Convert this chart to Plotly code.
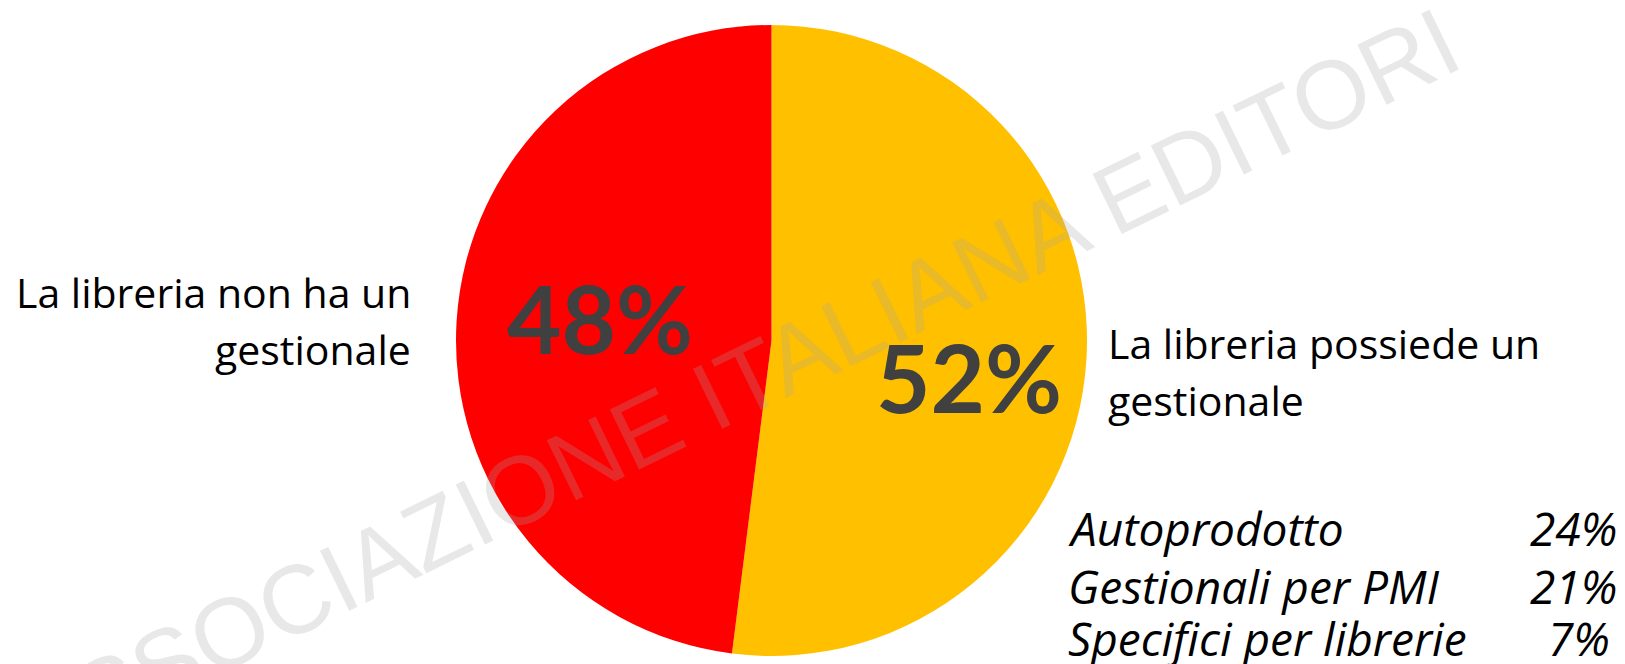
import plotly.graph_objects as go

W, H = 1625, 664

# Data
slice_labels = ["La libreria possiede un gestionale", "La libreria non ha un gestionale"]
slice_values = [52, 48]
slice_colors = ["#FFC000", "#FF0000"]
pct_text = ["52%", "48%"]

sub_labels = ["Autoprodotto", "Gestionali per PMI", "Specifici per librerie"]
sub_values = ["24%", "21%", "7%"]

watermark = "ASSOCIAZIONE ITALIANA EDITORI"

# page body has an 8px margin: compensate so the screenshot lines up
OFF = 8

def px(x):
    return (x - OFF) / W

def py(y):
    return 1 - (y - OFF) / H

cx, cy, r = 771.5, 340.5, 315.5

fig = go.Figure(go.Pie(
    labels=slice_labels,
    values=slice_values,
    marker=dict(colors=slice_colors, line=dict(width=0)),
    sort=False,
    direction="clockwise",
    rotation=0,
    textinfo="none",
    hoverinfo="label+percent",
    showlegend=False,
    domain=dict(x=[px(cx - r), px(cx + r)], y=[py(cy + r), py(cy - r)]),
))

anns = []
FONT = "Open Sans"
txt_size = 41
ital_size = 46

# Big percentages
anns.append(dict(x=px(969), y=py(376), text="<b>%s</b>" % pct_text[0],
                 font=dict(family="Lato", size=94, color="#404040")))
anns.append(dict(x=px(600), y=py(317), text="<b>%s</b>" % pct_text[1],
                 font=dict(family="Lato", size=94, color="#404040")))

# Left label
anns.append(dict(x=px(413), y=py(292), text="La libreria non ha un", xanchor="right",
                 font=dict(family=FONT, size=txt_size, color="black")))
anns.append(dict(x=px(413), y=py(349), text="gestionale", xanchor="right",
                 font=dict(family=FONT, size=txt_size, color="black")))

# Right label
anns.append(dict(x=px(1106), y=py(343), text="La libreria possiede un", xanchor="left",
                 font=dict(family=FONT, size=txt_size, color="black")))
anns.append(dict(x=px(1106), y=py(400), text="gestionale", xanchor="left",
                 font=dict(family=FONT, size=txt_size, color="black")))

# Sub list
rows_y = [528, 586, 638]
for lab, val, yy in zip(sub_labels, sub_values, rows_y):
    anns.append(dict(x=px(1066), y=py(yy), text="<i>%s</i>" % lab, xanchor="left",
                     font=dict(family=FONT, size=ital_size, color="black")))
    anns.append(dict(x=px(1619 if val != "7%" else 1612), y=py(yy), text="<i>%s</i>" % val,
                     xanchor="right",
                     font=dict(family=FONT, size=ital_size, color="black")))

# Watermark
anns.append(dict(x=px(737), y=py(385), text=watermark, textangle=-26,
                 font=dict(family="Liberation Sans", size=97, color="rgba(162,162,162,0.25)")))

for a in anns:
    a.setdefault("xref", "paper")
    a.setdefault("yref", "paper")
    a.setdefault("showarrow", False)
    a.setdefault("xanchor", "center")
    a.setdefault("yanchor", "middle")

fig.update_layout(
    width=W, height=H,
    margin=dict(l=0, r=0, t=0, b=0),
    paper_bgcolor="white",
    plot_bgcolor="white",
    annotations=anns,
)

fig.write_html("out.html")
